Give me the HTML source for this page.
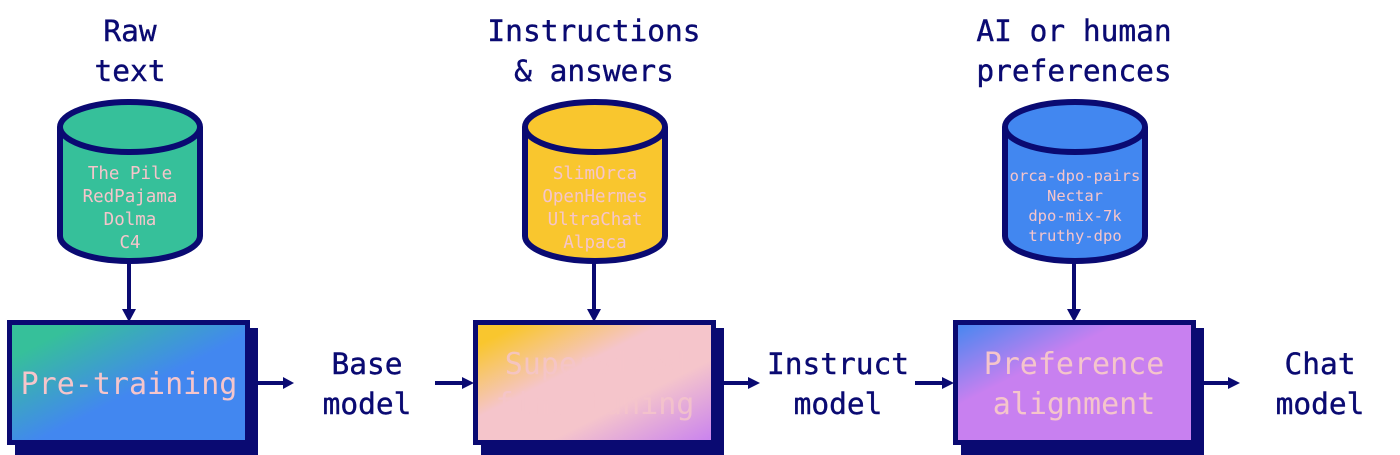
<!DOCTYPE html>
<html><head><meta charset="utf-8"><style>
html,body{margin:0;padding:0;background:#fff;}
svg{display:block;}
text{font-family:"DejaVu Sans Mono","Liberation Mono",monospace;}
</style></head><body>
<svg width="1400" height="455" viewBox="0 0 1400 455" xmlns="http://www.w3.org/2000/svg">
<defs>
<linearGradient id="g1" x1="0" y1="0" x2="1" y2="1">
<stop offset="0.15" stop-color="#36c09a"/><stop offset="0.55" stop-color="#4287f0"/><stop offset="1" stop-color="#4287f0"/></linearGradient>
<linearGradient id="g2" x1="0" y1="0" x2="1" y2="1">
<stop offset="0.1" stop-color="#f9c62e"/><stop offset="0.4" stop-color="#f5c5cb"/><stop offset="0.65" stop-color="#f5c5cb"/><stop offset="1" stop-color="#c880f0"/></linearGradient>
<linearGradient id="g3" x1="0" y1="0" x2="1" y2="1">
<stop offset="0" stop-color="#4287f0"/><stop offset="0.35" stop-color="#c880f0"/><stop offset="1" stop-color="#c880f0"/></linearGradient>
</defs>
<g fill="#0a0a72" font-size="29.5" text-anchor="middle" stroke="#0a0a72" stroke-width="0.4">
<text x="130" y="41">Raw</text><text x="130" y="81">text</text>
<text x="594" y="41">Instructions</text><text x="594" y="81">&amp; answers</text>
<text x="1074" y="41">AI or human</text><text x="1074" y="81">preferences</text>
<text x="367" y="374">Base</text><text x="367" y="414">model</text>
<text x="838" y="374">Instruct</text><text x="838" y="414">model</text>
<text x="1320" y="374">Chat</text><text x="1320" y="414">model</text>
</g>
<g stroke="#0a0a72" stroke-width="6">
<path d="M60,127 L60,236 A70,25 0 0 0 200,236 L200,127" fill="#36c09a"/>
<ellipse cx="130" cy="127" rx="70" ry="25" fill="#36c09a"/>
<path d="M525,127 L525,236 A70,25 0 0 0 665,236 L665,127" fill="#f9c62e"/>
<ellipse cx="595" cy="127" rx="70" ry="25" fill="#f9c62e"/>
<path d="M1005,127 L1005,236 A70,25 0 0 0 1145,236 L1145,127" fill="#4287f0"/>
<ellipse cx="1075" cy="127" rx="70" ry="25" fill="#4287f0"/>
</g>
<g fill="#f5c5cb" font-size="17.5" text-anchor="middle">
<text x="130" y="179">The Pile</text><text x="130" y="202">RedPajama</text><text x="130" y="225">Dolma</text><text x="130" y="248">C4</text>
<text x="595" y="179">SlimOrca</text><text x="595" y="202">OpenHermes</text><text x="595" y="225">UltraChat</text><text x="595" y="248">Alpaca</text>
</g>
<g fill="#f5c5cb" font-size="15.5" text-anchor="middle">
<text x="1075" y="181">orca-dpo-pairs</text><text x="1075" y="201">Nectar</text><text x="1075" y="221">dpo-mix-7k</text><text x="1075" y="241">truthy-dpo</text>
</g>
<g stroke="#0a0a72" stroke-width="4">
<line x1="129" y1="262" x2="129" y2="310"/>
<line x1="594" y1="262" x2="594" y2="310"/>
<line x1="1074" y1="262" x2="1074" y2="310"/>
<line x1="258" y1="383" x2="285" y2="383"/>
<line x1="435" y1="383" x2="465" y2="383"/>
<line x1="723" y1="383" x2="750" y2="383"/>
<line x1="915" y1="383" x2="945" y2="383"/>
<line x1="1203" y1="383" x2="1230" y2="383"/>
</g>
<g fill="#0a0a72">
<polygon points="122,309 136,309 129,322"/>
<polygon points="587,309 601,309 594,322"/>
<polygon points="1067,309 1081,309 1074,322"/>
<polygon points="283,377 283,389 294,383"/>
<polygon points="462,377 462,389 474,383"/>
<polygon points="748,377 748,389 760,383"/>
<polygon points="942,377 942,389 954,383"/>
<polygon points="1228,377 1228,389 1240,383"/>
<rect x="15" y="328" width="243" height="127"/>
<rect x="481" y="328" width="243" height="127"/>
<rect x="961" y="328" width="243" height="127"/>
</g>
<g stroke="#0a0a72" stroke-width="5">
<rect x="9.5" y="322.5" width="238" height="120" fill="url(#g1)"/>
<rect x="475.5" y="322.5" width="238" height="120" fill="url(#g2)"/>
<rect x="955.5" y="322.5" width="238" height="120" fill="url(#g3)"/>
</g>
<g fill="#f5c5cb" font-size="30" text-anchor="middle">
<text x="129" y="394">Pre-training</text>
<text x="595" y="374" opacity="0.85">Supervised</text><text x="595" y="414" opacity="0.85">fine-tuning</text>
<text x="1074" y="374">Preference</text><text x="1074" y="414">alignment</text>
</g>
</svg>
</body></html>
